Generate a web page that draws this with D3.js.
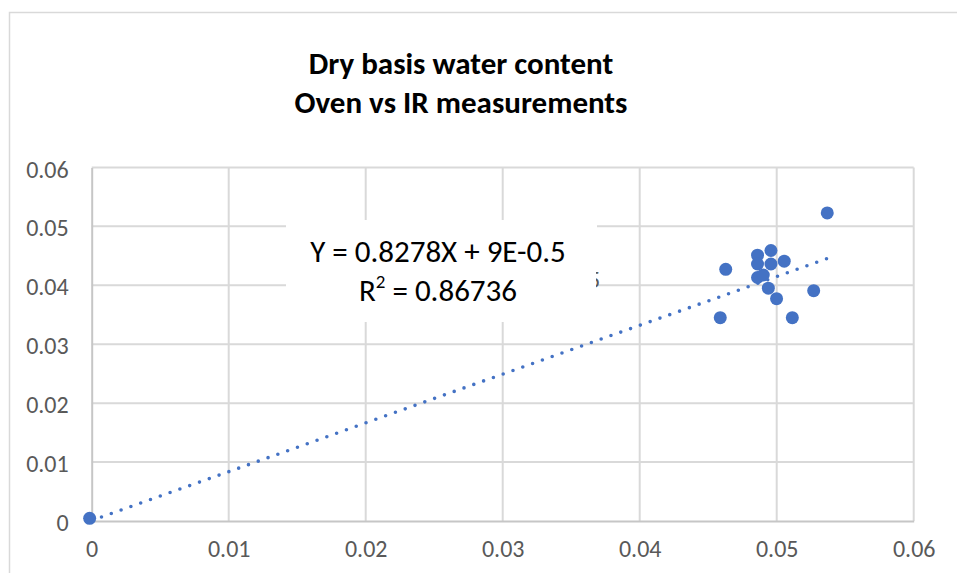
<!DOCTYPE html>
<html>
<head>
<meta charset="utf-8">
<script src="https://cdn.jsdelivr.net/npm/d3@7"></script>
<style>
  body { margin: 0; background: #fff; }
  svg { display: block; }
</style>
</head>
<body>
<svg id="chart"></svg>
<script>
// measured values (oven on x, IR on y)
var ovenX = [-0.00015, 0.04628, 0.04860, 0.04958, 0.04860, 0.04958, 0.05055, 0.04860,
             0.04902, 0.04939, 0.04999, 0.05270, 0.04588, 0.05114, 0.05369];
var irY   = [0.00045, 0.04271, 0.04510, 0.04590, 0.04361, 0.04361, 0.04409, 0.04132,
             0.04174, 0.03950, 0.03772, 0.03908, 0.03450, 0.03450, 0.05227];
var tickVals = [0, 0.01, 0.02, 0.03, 0.04, 0.05, 0.06];
var titleLines = ["Dry basis water content", "Oven vs IR measurements"];
var slope = 0.8278, intercept = 0.00009;
var eqText = "Y = 0.8278X + 9E-0.5";
var r2Text = "0.86736";

var width = 957, height = 573;
var font = "Carlito, Calibri, Lato, sans-serif";
var blue = "#4472C4";

var svg = d3.select("#chart")
  .attr("width", width)
  .attr("height", height);

// chart frame
svg.append("rect")
  .attr("x", 9.5).attr("y", 12.5)
  .attr("width", 1000).attr("height", 1000)
  .attr("fill", "#fff")
  .attr("stroke", "#d9d9d9")
  .attr("stroke-width", 1.5);

var x = d3.scaleLinear().domain([0, 0.06]).range([91.7, 913.7]);
var y = d3.scaleLinear().domain([0, 0.06]).range([521, 167.4]);

// gridlines
var grid = svg.append("g").attr("class", "grid");
grid.selectAll("line.h")
  .data(tickVals.slice(1))
  .enter().append("line")
  .attr("class", "h")
  .attr("x1", x(0)).attr("x2", x(0.06))
  .attr("y1", function (d) { return y(d); })
  .attr("y2", function (d) { return y(d); })
  .attr("stroke", "#d9d9d9").attr("stroke-width", 2);
grid.selectAll("line.v")
  .data(tickVals.slice(1))
  .enter().append("line")
  .attr("class", "v")
  .attr("y1", y(0)).attr("y2", y(0.06))
  .attr("x1", function (d) { return x(d); })
  .attr("x2", function (d) { return x(d); })
  .attr("stroke", "#d9d9d9").attr("stroke-width", 2);

// axes
var fmt = function (d) { return d === 0 ? "0" : d3.format(".2f")(d); };
var xAxis = svg.append("g")
  .attr("transform", "translate(0," + y(0) + ")")
  .call(d3.axisBottom(x).tickValues(tickVals).tickSize(0).tickPadding(23).tickFormat(fmt));
var yAxis = svg.append("g")
  .attr("transform", "translate(" + x(0) + ",0)")
  .call(d3.axisLeft(y).tickValues(tickVals).tickSize(0).tickPadding(23).tickFormat(fmt));
[xAxis, yAxis].forEach(function (ax) {
  ax.select(".domain").attr("stroke", "#c6c6c6").attr("stroke-width", 2);
  ax.selectAll("text")
    .attr("font-family", font)
    .attr("font-size", 24)
    .attr("fill", "#595959");
});
yAxis.selectAll("text").attr("dy", "0.4em");
xAxis.selectAll("text").attr("dy", "0.55em");

// equation box (covers gridlines)
svg.append("rect")
  .attr("x", 286).attr("y", 220)
  .attr("width", 311).attr("height", 102)
  .attr("fill", "#fff");

// sliver of the hidden original label
svg.append("clipPath").attr("id", "sliver")
  .append("rect").attr("x", 596).attr("y", 268).attr("width", 6).attr("height", 22);
svg.append("text")
  .attr("clip-path", "url(#sliver)")
  .attr("x", 588).attr("y", 288)
  .attr("font-family", font).attr("font-size", 24)
  .attr("fill", "#595959")
  .text("5");

// trendline
var trend = [0, d3.max(ovenX)].map(function (v) { return [v, slope * v + intercept]; });
svg.append("path")
  .datum(trend)
  .attr("d", d3.line().x(function (d) { return x(d[0]); }).y(function (d) { return y(d[1]); }))
  .attr("fill", "none")
  .attr("stroke", blue)
  .attr("stroke-width", 3.6)
  .attr("stroke-linecap", "round")
  .attr("stroke-dasharray", "0 10.4");

// points
svg.append("g").selectAll("circle")
  .data(d3.zip(ovenX, irY))
  .enter().append("circle")
  .attr("cx", function (d) { return x(d[0]); })
  .attr("cy", function (d) { return y(d[1]); })
  .attr("r", 6.5)
  .attr("fill", blue);

// equation label
svg.append("text")
  .attr("x", 438).attr("y", 261.7)
  .attr("text-anchor", "middle")
  .attr("font-family", font).attr("font-size", 31)
  .attr("fill", "#000")
  .text(eqText);
var r2 = svg.append("text")
  .attr("x", 438).attr("y", 300.7)
  .attr("text-anchor", "middle")
  .attr("font-family", font).attr("font-size", 31)
  .attr("fill", "#000");
r2.append("tspan").text("R");
r2.append("tspan").attr("font-size", 19).attr("dy", -13).text("2");
r2.append("tspan").attr("dy", 13).text(" = " + r2Text);

// title
svg.append("g").selectAll("text")
  .data(titleLines)
  .enter().append("text")
  .attr("x", 461)
  .attr("y", function (d, i) { return 74 + i * 38.7; })
  .attr("text-anchor", "middle")
  .attr("font-family", font)
  .attr("font-weight", "bold")
  .attr("font-size", 31)
  .attr("fill", "#000")
  .text(function (d) { return d; });
</script>
</body>
</html>
